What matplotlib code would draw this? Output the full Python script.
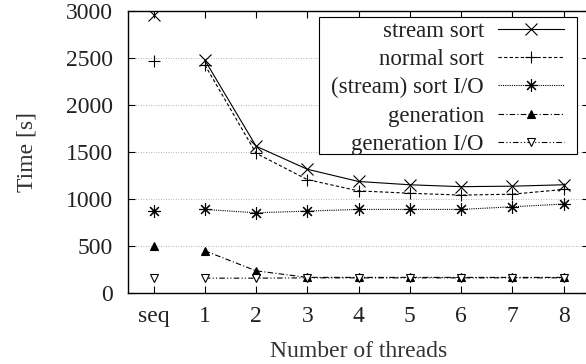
import matplotlib
matplotlib.use("Agg")
import matplotlib.pyplot as plt
from matplotlib.patches import Rectangle

plt.rcParams['font.family'] = ['Liberation Serif', 'DejaVu Serif']

threads = ['seq', '1', '2', '3', '4', '5', '6', '7', '8']
stream_sort = [2960, 2480, 1565, 1320, 1190, 1155, 1135, 1140, 1155]
normal_sort = [2470, 2430, 1490, 1210, 1090, 1065, 1045, 1055, 1105]
sort_io = [875, 893, 857, 875, 893, 893, 893, 921, 950]
generation = [506, 453, 240, 170, 170, 170, 170, 170, 170]
generation_io = [162, 162, 162, 165, 165, 165, 165, 165, 165]

fig = plt.figure(figsize=(5.86, 3.64), dpi=100)
ax = fig.add_axes([0.2184, 0.194, 0.787, 0.775])
x = list(range(len(threads)))

# seq point is not connected to the threaded runs
def draw(vals, ls, marker, label, ms=7, mfc='black'):
    ax.plot(x[0], vals[0], linestyle='none', marker=marker, color='black',
            ms=ms, mfc=mfc, mew=0.8)
    ax.plot(x[1:], vals[1:], linestyle=ls, marker=marker, color='black',
            lw=0.8, ms=ms, mfc=mfc, mew=0.8, label=label)

draw(stream_sort, '-', 'x', 'stream sort', ms=8)
draw(normal_sort, (0, (3, 2)), '+', 'normal sort', ms=8)
draw(sort_io, (0, (1, 1)), (8, 2, 0), '(stream) sort I/O', ms=9)
draw(generation, (0, (5, 2, 1, 2)), '^', 'generation', ms=6)
draw(generation_io, (0, (5, 2, 1, 2, 1, 2)), 'v', 'generation I/O', ms=6, mfc='white')

ax.set_xlim(-0.5, 8.5)
ax.set_ylim(0, 3000)
ax.set_xticks(x)
ax.set_xticklabels(threads)
ax.set_yticks(range(0, 3001, 500))
ax.tick_params(direction='in', top=True, right=True, labelsize=17, length=5, width=0.8,
               labelcolor='#222222')
ax.tick_params(axis='y', pad=11)
ax.tick_params(axis='x', pad=9)
ax.yaxis.grid(True, linestyle=(0, (1, 2)), color='#999999', lw=0.6)
for s in ax.spines.values():
    s.set_linewidth(1.0)

ax.set_xlabel('Number of threads', fontsize=17, labelpad=10, color='#333333')
ax.set_ylabel('Time [s]', fontsize=17, labelpad=20, color='#333333')

# gnuplot style key box
W, H = 586, 364
box = Rectangle((319 / W, 1 - 154 / H), 258 / W, 137 / H, transform=fig.transFigure,
                facecolor='white', edgecolor='black', lw=0.8, zorder=4.5, clip_on=False)
ax.add_patch(box)

leg = ax.legend(loc='upper right', bbox_to_anchor=(564 / W, 1 - 21 / H),
                bbox_transform=fig.transFigure, markerfirst=False, fontsize=16.5,
                frameon=False, handlelength=2.9, numpoints=1, borderaxespad=0,
                labelspacing=0.31, handletextpad=0.6, borderpad=0)
for t in leg.get_texts():
    t.set_color('#222222')

fig.savefig('out.png', dpi=100)
